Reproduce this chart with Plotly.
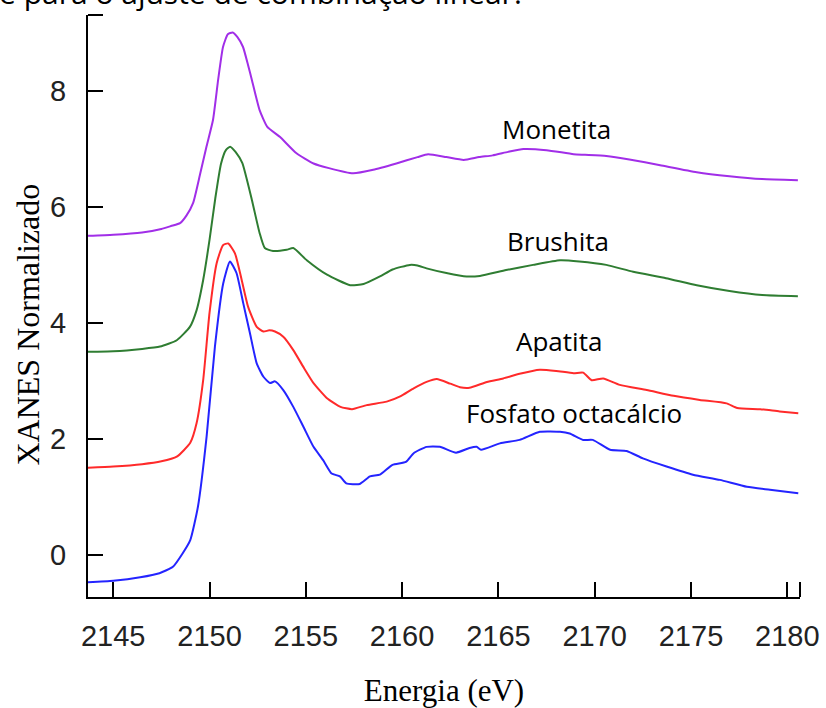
import plotly.graph_objects as go

# Normalised S K-edge XANES spectra of the calcium phosphate standards (stacked)
energia_monetita = [2143.62, 2145.0, 2146.5, 2147.5, 2148.0, 2148.47, 2148.8, 2149.15, 2149.5, 2149.85,
                    2150.18, 2150.45, 2150.7, 2150.95, 2151.2, 2151.45, 2151.74, 2152.0, 2152.2, 2152.6,
                    2153.0, 2153.65, 2154.5, 2155.4, 2156.2, 2157.45, 2158.5, 2159.7, 2160.8, 2161.35,
                    2162.3, 2163.2, 2164.0, 2164.7, 2165.5, 2166.3, 2167.5, 2168.9, 2169.5, 2170.6,
                    2171.8, 2173.4, 2175.3, 2177.0, 2178.7, 2180.55]
xanes_monetita = [5.50, 5.52, 5.56, 5.62, 5.67, 5.72, 5.85, 6.07, 6.55, 7.05,
                  7.50, 8.20, 8.76, 8.98, 9.01, 8.93, 8.76, 8.45, 8.19, 7.67,
                  7.38, 7.21, 6.93, 6.75, 6.67, 6.58, 6.64, 6.75, 6.86, 6.91,
                  6.86, 6.81, 6.86, 6.89, 6.95, 7.00, 6.98, 6.91, 6.90, 6.88,
                  6.82, 6.72, 6.60, 6.53, 6.48, 6.46]

energia_brushita = [2143.62, 2145.0, 2146.5, 2147.43, 2148.3, 2148.98, 2149.33, 2149.67, 2150.0, 2150.3,
                    2150.6, 2150.85, 2151.07, 2151.35, 2151.7, 2152.2, 2152.6, 2152.87, 2153.3, 2154.0,
                    2154.35, 2155.05, 2156.1, 2157.3, 2158.0, 2158.85, 2159.5, 2160.4, 2160.8, 2161.27,
                    2162.3, 2163.35, 2164.04, 2165.4, 2166.8, 2168.2, 2169.2, 2170.6, 2172.0, 2173.7,
                    2175.3, 2177.0, 2178.7, 2180.55]
xanes_brushita = [3.50, 3.51, 3.55, 3.59, 3.70, 3.93, 4.22, 4.74, 5.43, 6.15,
                  6.75, 6.98, 7.04, 6.95, 6.76, 6.12, 5.55, 5.29, 5.24, 5.26,
                  5.29, 5.08, 4.83, 4.65, 4.67, 4.80, 4.92, 5.00, 4.99, 4.94,
                  4.86, 4.80, 4.81, 4.91, 5.00, 5.08, 5.06, 5.00, 4.88, 4.77,
                  4.65, 4.55, 4.48, 4.46]

energia_apatita = [2143.62, 2145.0, 2146.5, 2147.5, 2148.3, 2149.0, 2149.33, 2149.67, 2150.0, 2150.37,
                   2150.7, 2150.97, 2151.32, 2151.67, 2152.0, 2152.45, 2152.8, 2153.1, 2153.4, 2153.83,
                   2154.35, 2154.87, 2155.4, 2156.1, 2156.8, 2157.4, 2158.16, 2159.2, 2159.9, 2160.6,
                   2161.27, 2161.8, 2162.5, 2163.0, 2163.5, 2164.4, 2165.25, 2166.1, 2167.15, 2168.0,
                   2168.9, 2169.4, 2169.84, 2170.44, 2171.3, 2172.7, 2174.1, 2175.46, 2176.85, 2177.4,
                   2178.6, 2179.6, 2180.57]
xanes_apatita = [1.50, 1.52, 1.56, 1.61, 1.69, 1.93, 2.27, 3.01, 4.17, 5.03,
                 5.34, 5.37, 5.20, 4.74, 4.28, 3.93, 3.85, 3.87, 3.85, 3.76,
                 3.53, 3.24, 2.96, 2.70, 2.55, 2.51, 2.58, 2.64, 2.73, 2.87,
                 2.98, 3.03, 2.95, 2.89, 2.88, 2.98, 3.04, 3.12, 3.19, 3.17,
                 3.13, 3.14, 3.01, 3.04, 2.93, 2.84, 2.74, 2.67, 2.61, 2.53,
                 2.51, 2.47, 2.44]

energia_ocp = [2143.62, 2145.0, 2146.4, 2147.4, 2148.1, 2148.6, 2149.0, 2149.4, 2149.85, 2150.28,
               2150.71, 2151.06, 2151.4, 2151.75, 2152.1, 2152.45, 2152.8, 2153.14, 2153.4, 2153.83,
               2154.35, 2154.87, 2155.4, 2155.9, 2156.34, 2156.77, 2157.1, 2157.8, 2158.33, 2158.85,
               2159.5, 2160.2, 2160.6, 2161.27, 2161.96, 2162.8, 2163.5, 2163.87, 2164.1, 2165.08,
               2166.1, 2167.15, 2168.2, 2168.7, 2169.4, 2169.9, 2170.8, 2171.66, 2172.5, 2173.73,
               2175.1, 2176.5, 2177.9, 2179.1, 2180.57]
xanes_ocp = [-0.48, -0.45, -0.39, -0.32, -0.21, 0.02, 0.25, 0.83, 2.04, 3.59,
             4.68, 5.06, 4.86, 4.34, 3.82, 3.30, 3.07, 2.96, 2.99, 2.84,
             2.55, 2.21, 1.86, 1.63, 1.40, 1.35, 1.23, 1.22, 1.35, 1.38,
             1.55, 1.60, 1.75, 1.86, 1.86, 1.76, 1.84, 1.86, 1.81, 1.92,
             1.98, 2.12, 2.12, 2.09, 1.98, 1.98, 1.81, 1.79, 1.66, 1.52,
             1.38, 1.29, 1.17, 1.12, 1.06]

# Spectrum labels: (text, energy, value)
rotulos = ["Monetita", "Brushita", "Apatita", "Fosfato octacálcio"]
rotulo_energia = [2168.04, 2168.1, 2168.15, 2168.9]
rotulo_valor = [7.34, 5.41, 3.68, 2.44]

x_ticks = [2145, 2150, 2155, 2160, 2165, 2170, 2175, 2180]
y_ticks = [0, 2, 4, 6, 8]
x_range = [2143.69, 2180.66]
y_range = [-0.731, 9.312]

series = [
    (energia_monetita, xanes_monetita, "#a12ee8", "Monetita"),
    (energia_brushita, xanes_brushita, "#2f7d32", "Brushita"),
    (energia_apatita, xanes_apatita, "#ff2a2a", "Apatita"),
    (energia_ocp, xanes_ocp, "#2424ff", "Fosfato octacálcio"),
]

W, H = 826, 708
ML, MR, MT, MB = 88, 26, 15, 111
PW, PH = W - ML - MR, H - MT - MB

fig = go.Figure()
for ex, ey, cor, nome in series:
    fig.add_trace(go.Scatter(x=ex, y=ey, mode="lines", name=nome,
                             line=dict(color=cor, width=2, shape="spline", smoothing=0.5)))

for txt, ex, ey in zip(rotulos, rotulo_energia, rotulo_valor):
    fig.add_annotation(x=ex, y=ey, text=txt, showarrow=False,
                       xanchor="center", yanchor="middle",
                       font=dict(family="Open Sans", size=26, color="#000000"))

# caption line running off the top edge
fig.add_annotation(xref="paper", yref="paper", x=(-3 - ML) / PW, y=1.0,
                   xanchor="left", yanchor="bottom", showarrow=False,
                   text="e para o ajuste de combinação linear.",
                   font=dict(family="Open Sans", size=30, color="#000000"))

# vertical axis title, centred a little below the middle of the axis
fig.add_annotation(xref="paper", yref="paper", x=(27.5 - ML) / PW, y=(H - MB - 325) / PH,
                   xanchor="center", yanchor="middle", showarrow=False, textangle=-90,
                   text="XANES Normalizado",
                   font=dict(family="Liberation Serif", size=32, color="#000000"))

# short end caps at the top of the y axis and the right end of the x axis
cap = 15
fig.add_shape(type="line", xref="paper", yref="paper", x0=0, x1=cap / PW, y0=1, y1=1,
              line=dict(color="#000000", width=2))
fig.add_shape(type="line", xref="paper", yref="paper", x0=1, x1=1, y0=0, y1=cap / PH,
              line=dict(color="#000000", width=2))

tick_font = dict(family="Liberation Sans", size=29, color="#222222")

fig.update_layout(
    width=W, height=H,
    margin=dict(l=ML, r=MR, t=MT, b=MB),
    paper_bgcolor="white", plot_bgcolor="white",
    showlegend=False,
    xaxis=dict(range=x_range, tickmode="array", tickvals=x_ticks,
               ticks="inside", ticklen=15, tickwidth=2, tickcolor="#000000",
               showline=True, linecolor="#000000", linewidth=2,
               showgrid=False, zeroline=False, tickfont=tick_font,
               ticklabelstandoff=12, automargin=False,
               title=dict(text="Energia (eV)", standoff=29,
                          font=dict(family="Liberation Serif", size=31, color="#000000"))),
    yaxis=dict(range=y_range, tickmode="array", tickvals=y_ticks,
               ticks="inside", ticklen=15, tickwidth=2, tickcolor="#000000",
               showline=True, linecolor="#000000", linewidth=2,
               showgrid=False, zeroline=False, tickfont=tick_font,
               ticklabelstandoff=14, automargin=False),
)

fig.write_html("out.html")
